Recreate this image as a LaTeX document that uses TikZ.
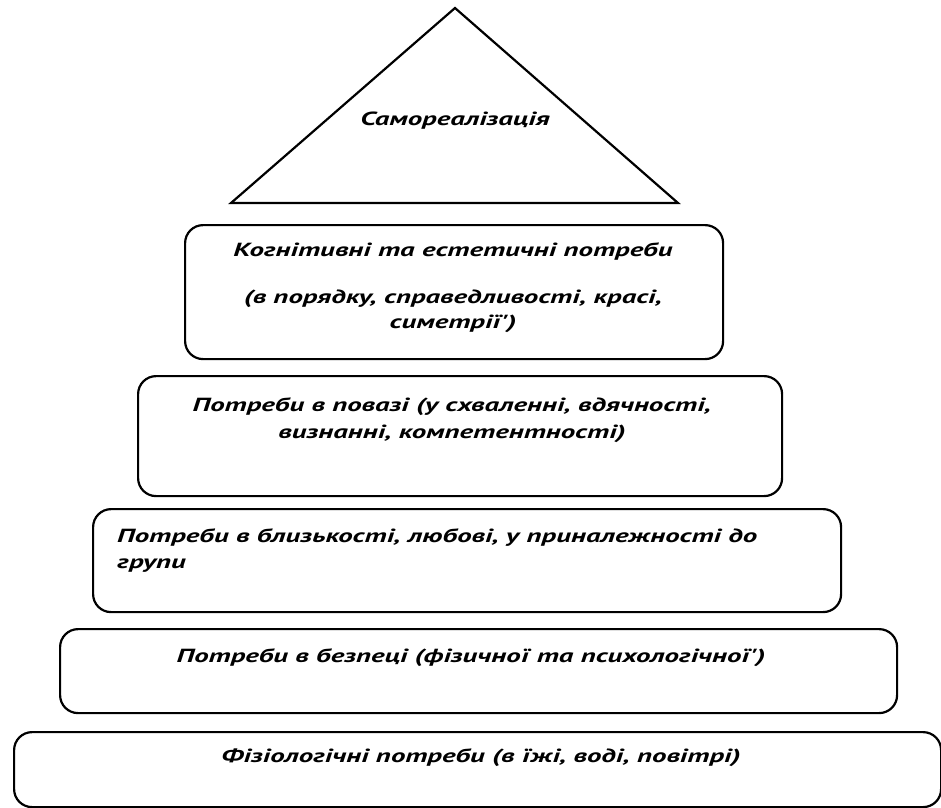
\documentclass[tikz,border=0pt]{standalone}
\usepackage{fontspec}
\setmainfont{PT Sans}
\newfontfamily\lblfont{PT Sans}[FakeStretch=1.52]
\begin{document}
\begin{tikzpicture}[x=1pt,y=-1pt,
  lvl/.style={draw=black, line width=2.2pt, rounded corners=18pt, anchor=north west, inner sep=0pt},
  lbl/.style={font=\lblfont\fontsize{19}{22}\selectfont\bfseries\itshape, anchor=base, inner sep=0pt}]
\useasboundingbox (0,0) rectangle (941,807);
% apex triangle
\coordinate (tA) at (455,8);
\coordinate (tL) at (231,203);
\coordinate (tR) at (678,203);
\draw[line width=2.2pt, line join=miter] (tA) -- (tR) -- (tL) -- cycle;
\node[lbl] (t0) at (455,125) {Самореалізація};
% boxes
\node[lvl, minimum width=538pt, minimum height=134pt] (b1) at (184,224) {};
\node[lvl, minimum width=644pt, minimum height=120pt] (b2) at (137,375) {};
\node[lvl, minimum width=748pt, minimum height=103pt] (b3) at (92,508) {};
\node[lvl, minimum width=837pt, minimum height=84pt] (b4) at (59,628) {};
\node[lvl, minimum width=927pt, minimum height=75pt] (b5) at (13,731) {};
% texts
\node[lbl] (t1a) at (453,256) {Когнітивні та естетичні потреби};
\node[lbl] (t1b) at (453,303) {(в порядку, справедливості, красі,};
\node[lbl] (t1c) at (453,328) {симетрії')};
\node[lbl] (t2a) at (452,411) {Потреби в повазі (у схваленні, вдячності,};
\node[lbl] (t2b) at (452,438) {визнанні, компетентності)};
\node[lbl, anchor=base west] (t3a) at (117,542) {Потреби в близькості, любові, у приналежності до};
\node[lbl, anchor=base west] (t3b) at (117,568) {групи};
\node[lbl] (t4) at (471,662) {Потреби в безпеці (фізичної та психологічної')};
\node[lbl] (t5) at (481,762) {Фізіологічні потреби (в їжі, воді, повітрі)};
\end{tikzpicture}
\end{document}
